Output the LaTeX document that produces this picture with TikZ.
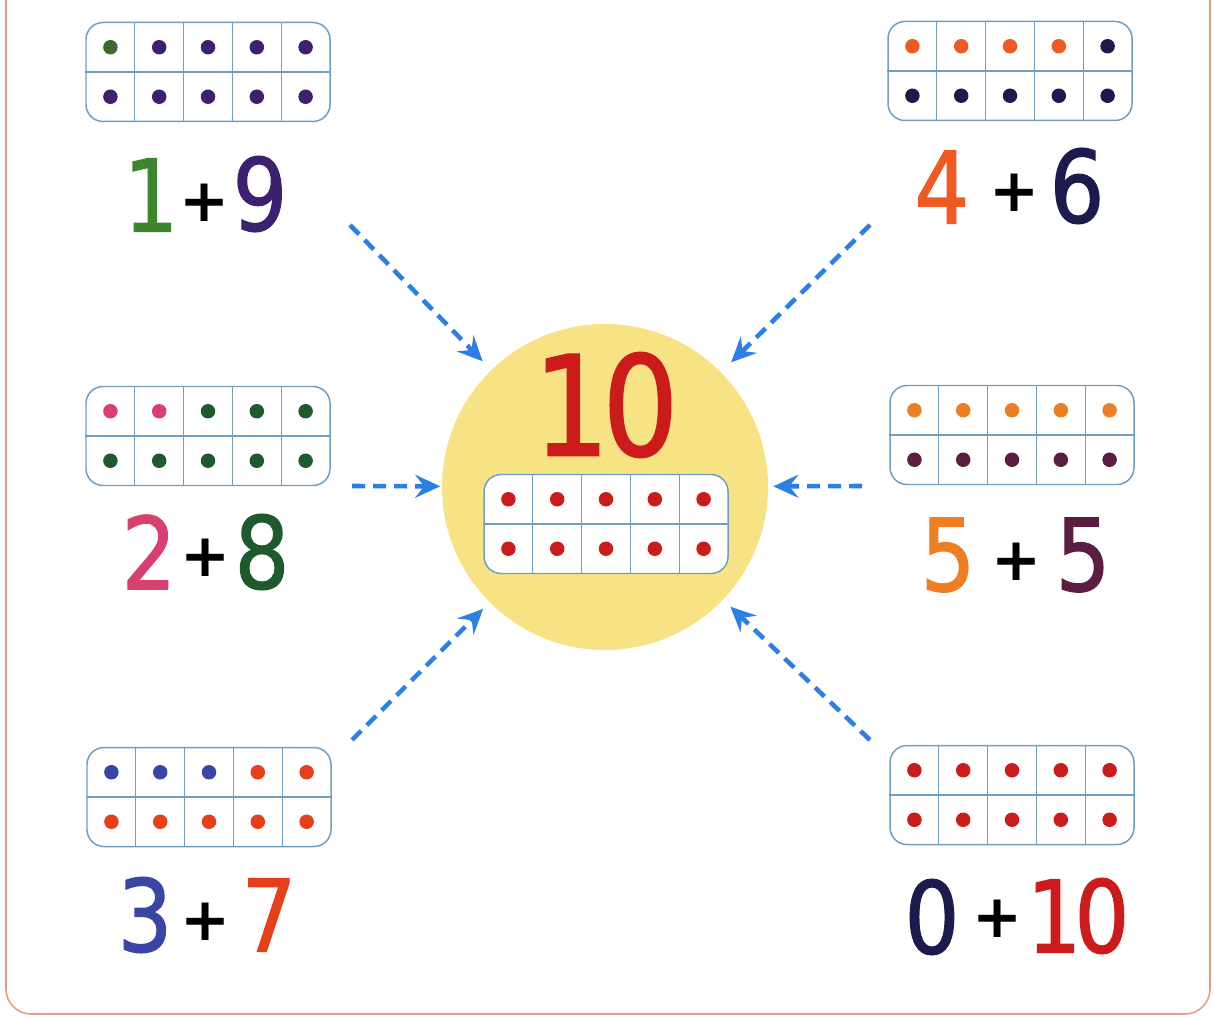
\documentclass[tikz,border=0pt]{standalone}
\usepackage{fontspec}
\usepackage{tikz}
\usetikzlibrary{arrows.meta,calc}

\newfontfamily\digitfont[FakeStretch=0.86, FakeBold=1.3]{DejaVu Sans}
\newfontfamily\plusfont{DejaVu Sans}

\definecolor{gridblue}{HTML}{6F9FC0}
\definecolor{sunyellow}{HTML}{F7E384}
\definecolor{arrowblue}{HTML}{2D7FE6}
\definecolor{edgeorange}{HTML}{E29C80}
\definecolor{leafgreen}{HTML}{3E862E}
\definecolor{dotgreen}{HTML}{3A6A2C}
\definecolor{grape}{HTML}{3D2170}
\definecolor{tangerine}{HTML}{EE5A22}
\definecolor{navy}{HTML}{1D1A4E}
\definecolor{rose}{HTML}{D8406F}
\definecolor{pine}{HTML}{1E5A2C}
\definecolor{amber}{HTML}{EE7E22}
\definecolor{plum}{HTML}{5B1E42}
\definecolor{cobalt}{HTML}{3A46A6}
\definecolor{flame}{HTML}{E5401A}
\definecolor{cherry}{HTML}{CC1B1B}

\newcommand{\tenframe}[5]{%
  \node[frame] (#1) at (#2) {};
  \draw[gridline] (#1.west) -- (#1.east);
  \foreach \k in {1,...,4}
    \draw[gridline] ($(#1.north west)!\k/5!(#1.north east)$) -- ($(#1.south west)!\k/5!(#1.south east)$);
  \foreach \i in {0,...,9} {
    \pgfmathtruncatemacro\col{mod(\i,5)}
    \pgfmathtruncatemacro\row{div(\i,5)}
    \ifnum\i<#3 \def\dotcol{#4}\else\def\dotcol{#5}\fi
    \fill[\dotcol] (#1) ++({(\col-2)*48.8},{(\row-0.5)*49.5}) circle[radius=1.45mm];
  }
}

\begin{document}
\begin{tikzpicture}[x=0.2mm, y=-0.2mm,
  frame/.style={draw=gridblue, line width=0.85pt, fill=white, rounded corners=3.4mm,
    minimum width=48.8mm, minimum height=19.8mm, inner sep=0pt},
  gridline/.style={draw=gridblue, line width=0.6pt},
  disc/.style={circle, fill=sunyellow, minimum size=65.2mm, inner sep=0pt},
  num/.style={font=\digitfont\fontsize{57}{60}\selectfont, inner sep=0pt},
  bignum/.style={font=\digitfont\fontsize{79}{84}\selectfont, inner sep=0pt},
  plus/.style={font=\plusfont\bfseries\fontsize{34}{40}\selectfont, inner sep=0pt},
  link/.style={draw=arrowblue, line width=2.6pt, dash pattern=on 2.6mm off 1.6mm,
    -{Stealth[length=5mm, width=4.6mm, inset=1.8mm]}},
  border/.style={draw=edgeorange, line width=0.9pt, rounded corners=5mm}]
  \useasboundingbox (0,0) rectangle (1213,1018);
  \draw[border] (6,0) -- (6,1014) -- (1210,1014) -- (1210,0);

  \node[disc] (sum) at (605,487) {};
  \node[bignum, text=cherry] (ten) at (606,405) {1\kern-0.05em 0};
  \tenframe{fsum}{606,524}{10}{cherry}{cherry}

  \tenframe{f19}{208,72}{1}{dotgreen}{grape}
  \tenframe{f46}{1010,71}{4}{tangerine}{navy}
  \tenframe{f28}{208,436}{2}{rose}{pine}
  \tenframe{f55}{1012,435}{5}{amber}{plum}
  \tenframe{f37}{209,797}{3}{cobalt}{flame}
  \tenframe{f010}{1012,795}{0}{navy}{cherry}

  \node[num, text=leafgreen] (n1) at (151,195) {1};
  \node[plus] (p19) at (205,203) {+};
  \node[num, text=grape] (n9) at (260,194) {9};

  \node[num, text=tangerine] (n4) at (942,187) {4};
  \node[plus] (p46) at (1015,193) {+};
  \node[num, text=navy] (n6) at (1077,186) {6};

  \node[num, text=rose] (n2) at (149,552) {2};
  \node[plus] (p28) at (206,558) {+};
  \node[num, text=pine] (n8) at (262,552) {8};

  \node[num, text=amber] (n5a) at (948,555) {5};
  \node[plus] (p55) at (1017,562) {+};
  \node[num, text=plum] (n5b) at (1083,555) {5};

  \node[num, text=cobalt] (n3) at (145,915) {3};
  \node[plus] (p37) at (206,922) {+};
  \node[num, text=flame] (n7) at (269,915) {7};

  \node[num, text=navy] (n0) at (932,917) {0};
  \node[plus] (p010) at (998,919) {+};
  \node[num, text=cherry] (n10) at (1078,916) {1\kern-0.07em 0};

  \coordinate (s19) at (350,225);
  \coordinate (s46) at (870,225);
  \coordinate (s28) at (352,486);
  \coordinate (s55) at (862,486);
  \coordinate (s37) at (352,740);
  \coordinate (s010) at (870,740);
  \draw[link, shorten >=2.4mm] (s19) -- (sum);
  \draw[link, shorten >=2.8mm] (s46) -- (sum);
  \draw[link, shorten >=0.3mm] (s28) -- (sum);
  \draw[link, shorten >=1mm] (s55) -- (sum);
  \draw[link, shorten >=1.8mm] (s37) -- (sum);
  \draw[link, shorten >=2mm] (s010) -- (sum);
\end{tikzpicture}
\end{document}
